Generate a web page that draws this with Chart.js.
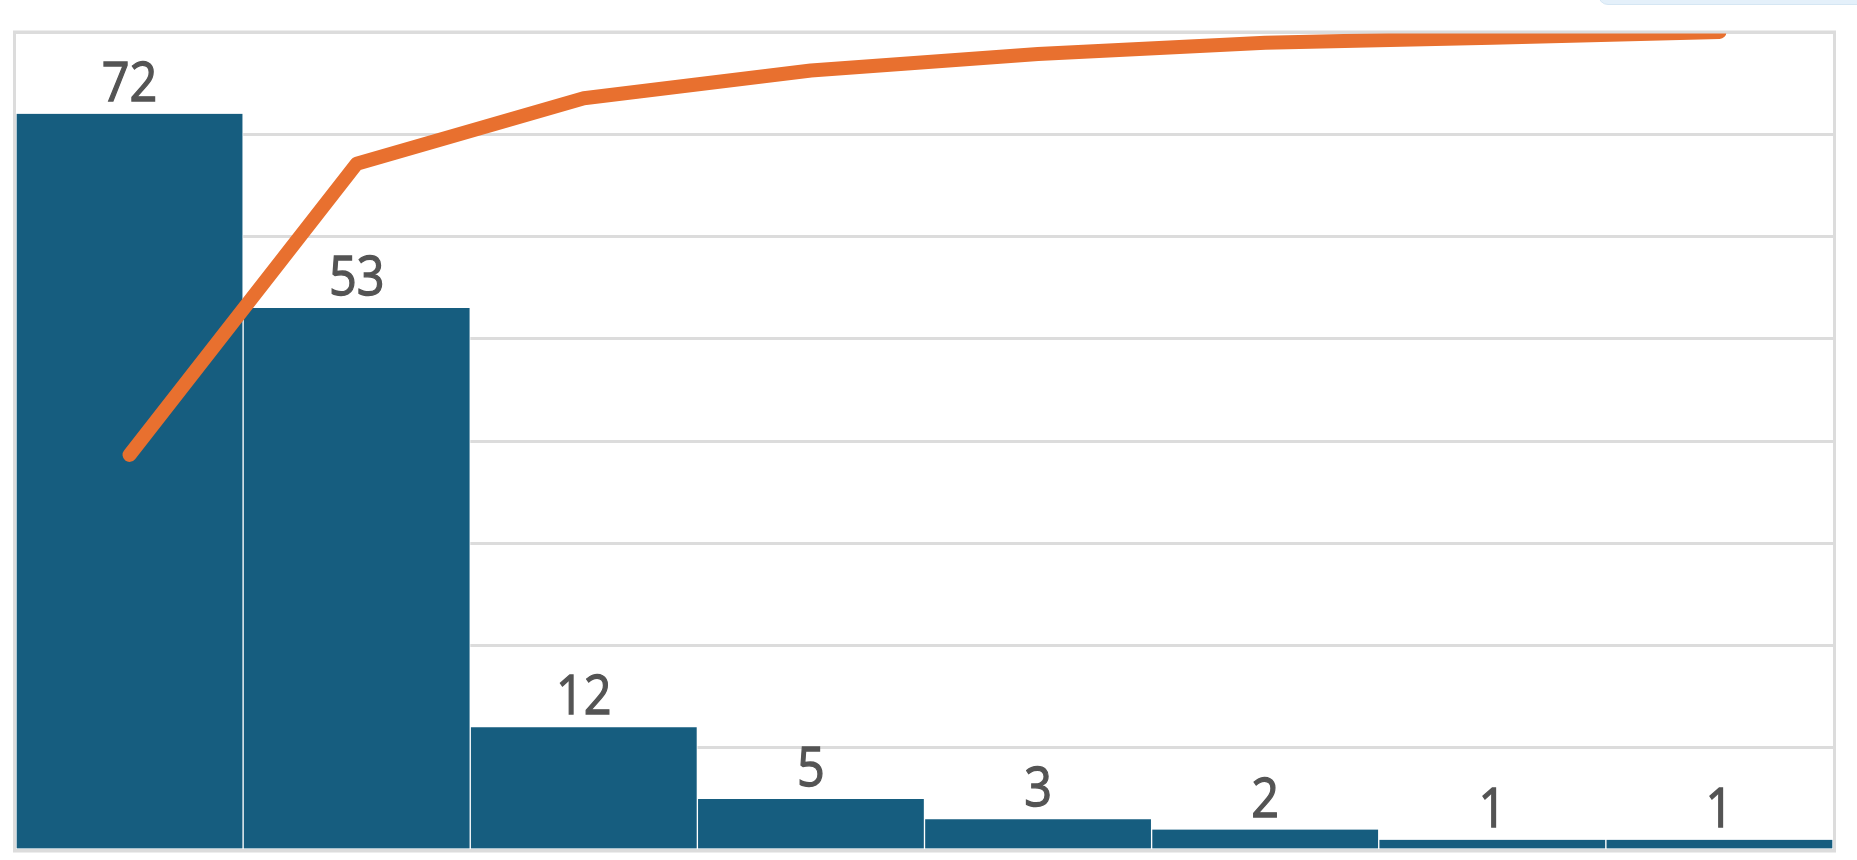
<!DOCTYPE html>
<html>
<head>
<meta charset="utf-8">
<script src="https://cdn.jsdelivr.net/npm/chart.js@4/dist/chart.umd.min.js"></script>
<style>
  html, body { margin: 0; padding: 0; background: #ffffff; }
  #wrap { position: relative; width: 1857px; height: 860px; }
  #topbox { position: absolute; left: 1598px; top: -6px; width: 270px; height: 9px;
            background: #e4f0fa; border: 1px solid #d5e6f3; border-radius: 0 0 0 10px; }
</style>
</head>
<body>
<div id="wrap">
  <canvas id="c"></canvas>
  <div id="topbox"></div>
</div>
<script>
const categories = ['A', 'B', 'C', 'D', 'E', 'F', 'G', 'H'];
const counts = [72, 53, 12, 5, 3, 2, 1, 1];
const cumulativePercent = [48.3, 83.9, 91.9, 95.3, 97.3, 98.7, 99.3, 100];
const countTicks = [0, 10, 20, 30, 40, 50, 60, 70, 80];

const frame = {
  id: 'frame',
  afterDraw(chart) {
    const a = chart.chartArea, ctx = chart.ctx;
    ctx.save();
    ctx.strokeStyle = '#dcdcdc';
    ctx.lineWidth = 3;
    ctx.strokeRect(a.left - 1.5, a.top, a.right - a.left + 3, a.bottom - a.top + 1);
    ctx.restore();
  }
};

const barLabels = {
  id: 'barLabels',
  afterDatasetsDraw(chart) {
    const ctx = chart.ctx;
    const meta = chart.getDatasetMeta(1);
    meta.data.forEach((bar, i) => {
      ctx.save();
      ctx.font = '400 54px "Open Sans"';
      ctx.fillStyle = '#545454';
      ctx.strokeStyle = '#545454';
      ctx.lineWidth = 1.3;
      ctx.textAlign = 'center';
      ctx.textBaseline = 'alphabetic';
      ctx.translate(bar.x, bar.y - 13);
      ctx.scale(0.9, 1);
      ctx.fillText(String(counts[i]), 0, 0);
      ctx.strokeText(String(counts[i]), 0, 0);
      ctx.restore();
    });
  }
};

new Chart(document.getElementById('c'), {
  data: {
    labels: categories,
    datasets: [
      {
        type: 'line',
        data: cumulativePercent,
        yAxisID: 'y2',
        borderColor: '#e8702f',
        borderWidth: 14,
        borderCapStyle: 'round',
        borderJoinStyle: 'round',
        pointRadius: 0,
        tension: 0,
        order: 0
      },
      {
        type: 'bar',
        data: counts,
        yAxisID: 'y',
        backgroundColor: '#165d7f',
        borderColor: '#ffffff',
        borderWidth: { left: 1, right: 1, top: 0, bottom: 0 },
        borderSkipped: false,
        barPercentage: 1,
        categoryPercentage: 1,
        order: 1
      }
    ]
  },
  options: {
    responsive: true,
    maintainAspectRatio: false,
    animation: false,
    layout: { padding: { left: 16, right: 24, top: 32, bottom: 10 } },
    plugins: { legend: { display: false }, tooltip: { enabled: false } },
    scales: {
      x: { display: false, offset: true },
      y: {
        display: true,
        min: countTicks[0],
        max: countTicks[countTicks.length - 1],
        afterBuildTicks(scale) { scale.ticks = countTicks.map(v => ({ value: v })); },
        ticks: { display: false },
        grid: { color: '#dcdcdc', lineWidth: 3, drawTicks: false },
        border: { display: false }
      },
      y2: { display: false, min: 0, max: 100 }
    }
  },
  plugins: [frame, barLabels]
});
</script>
</body>
</html>
